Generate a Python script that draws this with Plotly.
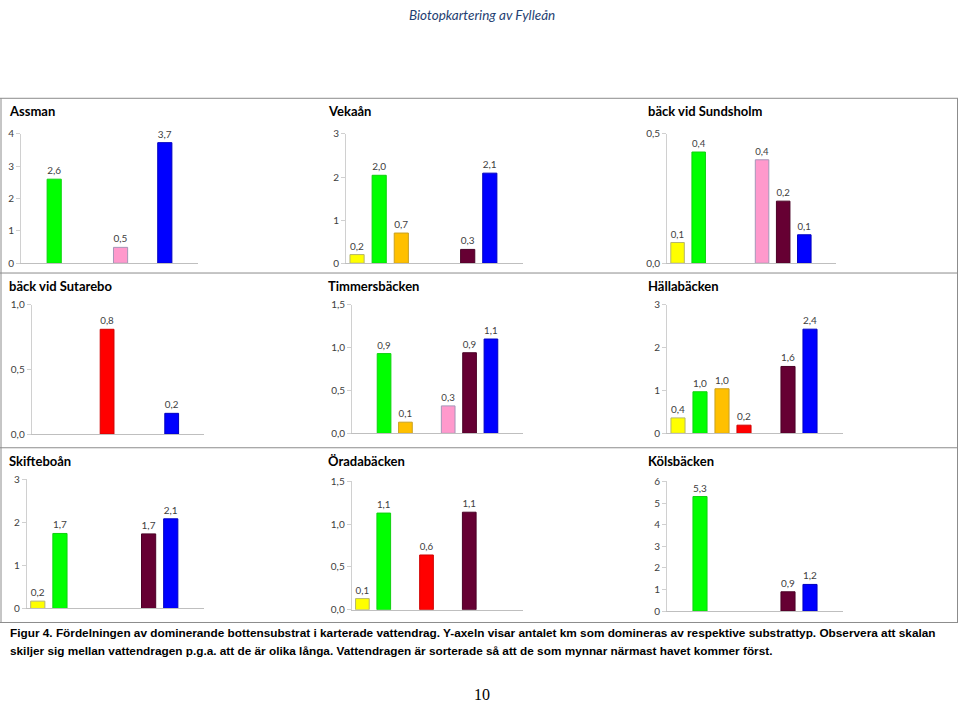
import plotly.graph_objects as go

# ---------------- data ----------------
CATEGORIES = ["gul", "grön", "orange", "röd", "rosa", "vinröd", "blå", "övrigt"]
BAR_COLORS = ["#FFFF00", "#00FF00", "#FFC000", "#FF0000", "#FF99CC", "#660033", "#0000FF", "#FFFFFF"]
LINE_COLORS = ["#B5B56E", "#10D010", "#C9A020", "#D00000", "#A596B8", "#4A0025", "#0000C0", "#FFFFFF"]

assman = [None, 2.6, None, None, 0.49, None, 3.73, None]
vekaan = [0.2, 2.04, 0.7, None, None, 0.32, 2.09, None]
sundsholm = [0.08, 0.43, None, None, 0.40, 0.24, 0.11, None]
sutarebo = [None, None, None, 0.81, None, None, 0.16, None]
timmersbacken = [None, 0.93, 0.13, None, 0.32, 0.94, 1.10, None]
hallabacken = [0.36, 0.97, 1.04, 0.19, None, 1.56, 2.43, None]
skifteboan = [0.17, 1.74, None, None, None, 1.73, 2.08, None]
oradabacken = [0.13, 1.13, None, 0.64, None, 1.14, None, None]
kolsbacken = [None, 5.3, None, None, None, 0.89, 1.23, None]

PANEL_NAMES = ["Assman", "Vekaån", "bäck vid Sundsholm",
               "bäck vid Sutarebo", "Timmersbäcken", "Hällabäcken",
               "Skifteboån", "Öradabäcken", "Kölsbäcken"]
PANEL_VALUES = [assman, vekaan, sundsholm, sutarebo, timmersbacken,
                hallabacken, skifteboan, oradabacken, kolsbacken]
Y_MAX = [4, 3, 0.5, 1.0, 1.5, 3, 3, 1.5, 6]
Y_STEP = [1, 1, 0.5, 0.5, 0.5, 1, 1, 0.5, 1]
Y_FMT = ["d", "d", ".1f", ".1f", ".1f", "d", "d", ".1f", "d"]

# ---------------- layout geometry (pixels) ----------------
W, H = 960, 708
# plot areas: x0, x1, ytop, ybottom
AREAS = [
    (21, 198, 129.3, 261), (346, 523, 129.3, 261), (667, 836, 129.3, 261),
    (31.7, 204, 303.3, 435), (352, 523, 303.3, 434.3), (667, 843, 303.3, 434.3),
    (26.7, 204, 481, 612.7), (351.7, 522.7, 483.3, 614), (667, 843, 483.3, 615.3),
]
TITLE_POS = [(7, 106), (326, 106), (646, 106),
             (7, 284), (326, 284), (646, 284),
             (7, 462), (326, 462), (646, 462)]

def px(x):
    return x / W

def py(y):
    return 1 - y / H

fig = go.Figure()
layout = dict(
    width=W, height=H,
    margin=dict(l=0, r=0, t=0, b=0),
    paper_bgcolor="white", plot_bgcolor="white",
    showlegend=False,
    separators=", ",
    font=dict(family="Lato, Open Sans, sans-serif", color="#404040"),
    annotations=[], shapes=[],
)

TEXT_FONT = dict(family="Lato, sans-serif", size=10, color="#404040")

for i, (vals, (x0, x1, yt, yb)) in enumerate(zip(PANEL_VALUES, AREAS)):
    n = "" if i == 0 else str(i + 1)
    fig.add_trace(go.Bar(
        x=CATEGORIES, y=vals,
        xaxis="x" + n, yaxis="y" + n,
        width=0.64,
        marker=dict(color=BAR_COLORS, line=dict(color=LINE_COLORS, width=1)),
        texttemplate="%{y:.1f}", textposition="outside",
        textfont=TEXT_FONT, cliponaxis=False,
        hoverinfo="skip",
    ))
    layout["xaxis" + n] = dict(
        domain=[px(x0), px(x1)], anchor="y" + n,
        type="category", categoryorder="array", categoryarray=CATEGORIES,
        range=[-0.5, len(CATEGORIES) - 0.5],
        showticklabels=False, ticks="", showgrid=False, zeroline=False,
        showline=True, linecolor="#BFBFBF", linewidth=1, fixedrange=True,
    )
    layout["yaxis" + n] = dict(
        domain=[py(yb), py(yt)], anchor="x" + n,
        range=[0, Y_MAX[i]], dtick=Y_STEP[i], tick0=0,
        tickformat=Y_FMT[i],
        showgrid=False, zeroline=False,
        showline=True, linecolor="#D0D0D0", linewidth=1,
        ticks="outside", ticklen=4, tickcolor="#D0D0D0",
        tickfont=dict(family="Lato, sans-serif", size=10, color="#404040"),
        fixedrange=True,
    )
    tx, ty = TITLE_POS[i]
    layout["annotations"].append(dict(
        text="<b>" + PANEL_NAMES[i] + "</b>", x=px(tx), y=py(ty),
        xref="paper", yref="paper", xanchor="left", yanchor="middle",
        showarrow=False,
        font=dict(family="Lato, sans-serif", size=13, color="#000000"),
    ))

# frame lines
FRAME = "#8C8C8C"
for yline in [93, 271, 449, 627]:
    layout["shapes"].append(dict(type="line", xref="paper", yref="paper",
                                 x0=px(0), x1=px(958), y0=py(yline), y1=py(yline),
                                 line=dict(color=FRAME, width=1)))
for xline in [1, 957.5]:
    layout["shapes"].append(dict(type="line", xref="paper", yref="paper",
                                 x0=px(xline), x1=px(xline), y0=py(93), y1=py(627),
                                 line=dict(color=FRAME, width=1)))

# page header
layout["annotations"].append(dict(
    text="<i>Biotopkartering av Fylleån</i>", x=px(482), y=py(8),
    xref="paper", yref="paper", xanchor="center", yanchor="middle",
    showarrow=False,
    font=dict(family="Lato, sans-serif", size=13.5, color="#1F3F73"),
))

# caption
CAPTION_1 = ("Figur 4. Fördelningen av dominerande bottensubstrat i karterade vattendrag. "
             "Y-axeln visar antalet km som domineras av respektive substrattyp. Observera att skalan")
CAPTION_2 = ("skiljer sig mellan vattendragen p.g.a. att de är olika långa. "
             "Vattendragen är sorterade så att de som mynnar närmast havet kommer först.")
for txt, yy in [(CAPTION_1, 638), (CAPTION_2, 656)]:
    layout["annotations"].append(dict(
        text="<b>" + txt + "</b>", x=px(8), y=py(yy),
        xref="paper", yref="paper", xanchor="left", yanchor="middle",
        showarrow=False,
        font=dict(family="Liberation Sans, Arial, sans-serif", size=11.8, color="#000000"),
    ))

# page number
layout["annotations"].append(dict(
    text="10", x=px(482), y=py(700),
    xref="paper", yref="paper", xanchor="center", yanchor="middle",
    showarrow=False,
    font=dict(family="Liberation Serif, serif", size=16, color="#000000"),
))

fig.update_layout(**layout)
fig.write_html(
    "out.html",
    config={"displayModeBar": False},
    post_script="document.body.style.margin='0';document.body.style.overflow='hidden';",
)
